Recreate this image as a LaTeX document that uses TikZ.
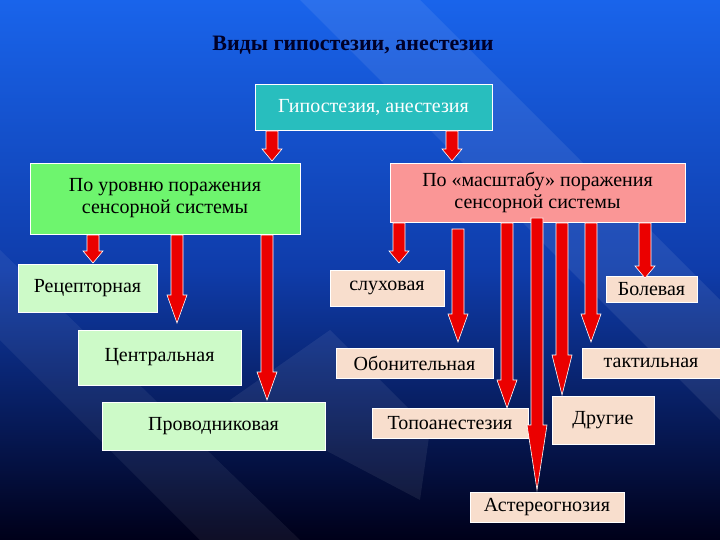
\documentclass[tikz,border=0pt]{standalone}
\usepackage{fontspec}
\setmainfont{Liberation Serif}
\begin{document}
\begin{tikzpicture}[x=1pt,y=-1pt,
  box/.style={draw=white,line width=0.8pt,inner sep=0pt,font=\fontsize{20}{22}\selectfont,align=center},
  arrowsty/.style={fill={rgb,255:red,235;green,0;blue,0},draw=white,line width=0.6pt,line join=miter}]
\definecolor{teal1}{RGB}{40,190,190}
\definecolor{green1}{RGB}{110,245,110}
\definecolor{pink1}{RGB}{250,150,150}
\definecolor{pgreen}{RGB}{205,250,200}
\definecolor{peach}{RGB}{248,222,205}
\shade[top color={rgb,255:red,25;green,100;blue,235},bottom color={rgb,255:red,0;green,0;blue,25},middle color={rgb,255:red,15;green,60;blue,170}] (0,0) rectangle (720,540);
\fill[white,opacity=0.08] (300,0) -- (420,0) -- (720,300) -- (720,420) -- cycle;
\fill[white,opacity=0.06] (0,250) -- (0,340) -- (200,540) -- (300,540) -- cycle;
\fill[white,opacity=0.07] (330,330) -- (430,430) -- (420,500) -- (230,400) -- cycle;
\useasboundingbox (0,0) rectangle (720,540);
\node[font=\fontsize{22}{24}\selectfont\bfseries,text={rgb,255:red,0;green,0;blue,40}] (title) at (353,45) {Виды гипостезии, анестезии};
\node[box,fill=teal1,text=white,minimum width=237,minimum height=46] (top) at (373.5,107) {Гипостезия, анестезия};
\node[box,fill=green1,minimum width=270,minimum height=71] (lvl) at (165,198.5) {По уровню поражения\\сенсорной системы};
\node[box,fill=pink1,minimum width=295,minimum height=59] (scl) at (537.5,192.5) {По «масштабу» поражения\\сенсорной системы};
\node[box,fill=pgreen,minimum width=139,minimum height=48] (rec) at (87.5,288) {Рецепторная};
\node[box,fill=pgreen,minimum width=163,minimum height=55] (cen) at (159.5,357.5) {Центральная};
\node[box,fill=pgreen,minimum width=223,minimum height=48] (pro) at (213.5,426) {Проводниковая};
\node[box,fill=peach,minimum width=114,minimum height=36] (slu) at (387,288) {слуховая};
\node[box,fill=peach,minimum width=91,minimum height=26] (bol) at (651.5,289) {Болевая};
\node[box,fill=peach,minimum width=157,minimum height=30] (obo) at (414.5,363) {Обонительная};
\node[box,fill=peach,minimum width=138,minimum height=30] (tak) at (651,363) {тактильная};
\node[box,fill=peach,minimum width=156,minimum height=30] (top2) at (450,423) {Топоанестезия};
\node[box,fill=peach,minimum width=102,minimum height=48] (dru) at (603,420) {Другие};
\node[box,fill=peach,minimum width=154,minimum height=30] (ast) at (547,507) {Астереогнозия};
\newcommand\barr[4]{\filldraw[arrowsty] ({#1-6},#2) -- ({#1+6},#2) -- ({#1+6},{#3-#4}) -- ({#1+10},{#3-#4}) -- (#1,#3) -- ({#1-10},{#3-#4}) -- ({#1-6},{#3-#4}) -- cycle;}
\barr{272}{131}{161}{12}
\barr{452}{131}{161}{12}
\barr{93}{235}{263}{12}
\barr{177}{235}{323}{28}
\barr{267}{235}{400}{28}
\barr{399}{223}{263}{12}
\barr{458}{229}{342}{28}
\barr{507}{223}{408}{28}
\barr{537}{218}{490}{65}
\barr{562}{223}{395}{40}
\barr{591}{223}{342}{28}
\barr{645}{223}{278}{12}
\end{tikzpicture}
\end{document}
